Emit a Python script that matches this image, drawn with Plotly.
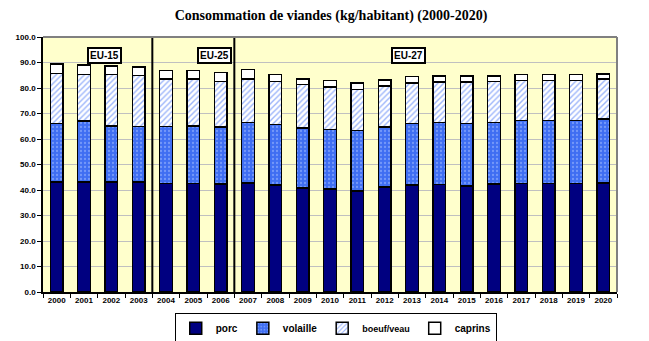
import plotly.graph_objects as go

# Consommation de viandes par habitant (kg), UE, 2000-2020
years = [str(y) for y in range(2000, 2021)]

porc = [43.2, 43.2, 43.2, 43.2, 42.5, 42.5, 42.3, 42.8, 41.9, 40.8, 40.3,
        39.6, 41.1, 41.9, 42.1, 41.6, 42.3, 42.5, 42.5, 42.5, 42.7]
volaille = [22.8, 23.8, 21.9, 21.8, 22.5, 22.6, 22.4, 23.6, 23.7, 23.5, 23.5,
            23.7, 23.7, 24.1, 24.3, 24.4, 24.2, 24.7, 24.8, 24.8, 25.1]
boeuf_veau = [19.6, 18.3, 20.2, 19.9, 18.6, 18.5, 17.9, 17.2, 17.0, 17.0, 16.6,
              16.2, 15.9, 15.9, 15.9, 16.3, 16.1, 15.8, 15.7, 15.7, 15.7]
caprins = [3.9, 3.8, 3.4, 3.3, 3.3, 3.3, 3.4, 3.6, 2.6, 2.3, 2.5,
           2.4, 2.5, 2.6, 2.4, 2.4, 2.1, 2.3, 2.2, 2.2, 1.9]

periods = ["EU-15", "EU-25", "EU-27"]
period_label_x = [0.076, 0.268, 0.636]   # paper positions of the period boxes
period_breaks = [3.5, 6.5]               # between 2003|2004 and 2006|2007

y_ticks = [0, 10, 20, 30, 40, 50, 60, 70, 80, 90, 100]

FONT = "Liberation Sans"
outline = dict(color="black", width=1.5)

fig = go.Figure()
fig.add_trace(go.Bar(
    x=years, y=porc, name="porc",
    marker=dict(color="#000080", line=outline),
))
fig.add_trace(go.Bar(
    x=years, y=volaille, name="volaille",
    marker=dict(color="#3F6EF2", line=outline,
                pattern=dict(shape=".", fgcolor="#A9C2FF", bgcolor="#3F6EF2",
                             size=4, solidity=0.25)),
))
fig.add_trace(go.Bar(
    x=years, y=boeuf_veau, name="<span style='font-size:9px'>boeuf/veau</span>",
    marker=dict(color="white", line=outline,
                pattern=dict(shape="/", fgcolor="#3A6BF5", bgcolor="white",
                             size=4, solidity=0.35)),
))
fig.add_trace(go.Bar(
    x=years, y=caprins, name="caprins",
    marker=dict(color="white", line=outline),
))

# period separators
for xb in period_breaks:
    fig.add_shape(type="line", xref="x", yref="y", x0=xb, x1=xb, y0=0, y1=100,
                  line=dict(color="black", width=2), layer="above")

# grey frame on top and right of the plot area
fig.add_shape(type="line", xref="paper", yref="paper", x0=0, x1=1, y0=1, y1=1,
              line=dict(color="#808080", width=2))
fig.add_shape(type="line", xref="paper", yref="paper", x0=1, x1=1, y0=0, y1=1,
              line=dict(color="#808080", width=2))

for label, px in zip(periods, period_label_x):
    fig.add_annotation(
        x=px, y=0.96, xref="paper", yref="paper", text=label, showarrow=False,
        font=dict(family=FONT, size=10, color="black", weight="bold"),
        bgcolor="white", bordercolor="black", borderwidth=2, borderpad=1,
    )

fig.update_layout(
    width=649, height=341,
    margin=dict(l=43, r=32, t=37, b=49, autoexpand=False),
    paper_bgcolor="white",
    plot_bgcolor="#FFFFCC",
    barmode="stack",
    bargap=0.535,
    title=dict(
        text="Consommation de viandes (kg/habitant) (2000-2020)",
        x=0.51, xanchor="center", y=0.955, yanchor="middle",
        font=dict(family="Liberation Serif", size=14, color="black", weight="bold"),
    ),
    font=dict(family=FONT, color="black"),
    legend=dict(
        orientation="h", x=0.51, xanchor="center",
        yref="container", y=0.083, yanchor="top",
        bordercolor="black", borderwidth=1, bgcolor="white",
        font=dict(family=FONT, size=10, color="black", weight="bold"),
        itemwidth=30, tracegroupgap=0, traceorder="normal",
    ),
    showlegend=True,
)

fig.update_xaxes(
    type="category", tickson="boundaries", ticks="outside", ticklen=4,
    tickcolor="black", showline=True, linecolor="black", linewidth=1.5,
    showgrid=False, tickangle=0, automargin=False,
    tickfont=dict(family=FONT, size=8, weight="bold"),
)
fig.update_yaxes(
    range=[0, 100], tickvals=y_ticks, tickformat=".1f", ticks="outside",
    ticklen=4, tickcolor="black", showline=True, linecolor="black",
    linewidth=1.5, showgrid=True, gridcolor="#C0C0C0", gridwidth=1,
    zeroline=False, automargin=False,
    tickfont=dict(family=FONT, size=8, weight="bold"),
)

fig.write_html("out.html")
